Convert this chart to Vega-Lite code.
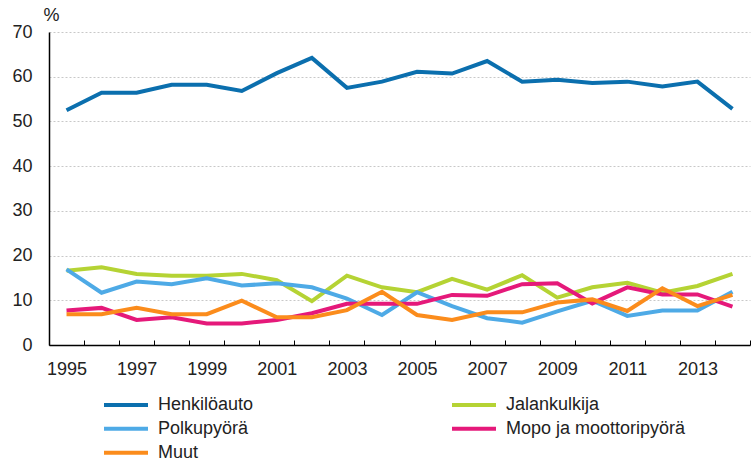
{
  "$schema": "https://vega.github.io/schema/vega-lite/v6.json",
  "width": 701,
  "height": 313,
  "autosize": {"type": "none"},
  "padding": {"left": 49, "top": 32, "right": 2, "bottom": 121},
  "background": "white",
  "config": {
    "view": {"stroke": null},
    "font": "Liberation Sans"
  },
  "datasets": {
    "d": [
      {"year": 1995, "series": "Henkilöauto", "value": 52.5},
      {"year": 1996, "series": "Henkilöauto", "value": 56.4},
      {"year": 1997, "series": "Henkilöauto", "value": 56.4},
      {"year": 1998, "series": "Henkilöauto", "value": 58.2},
      {"year": 1999, "series": "Henkilöauto", "value": 58.2},
      {"year": 2000, "series": "Henkilöauto", "value": 56.8},
      {"year": 2001, "series": "Henkilöauto", "value": 60.8},
      {"year": 2002, "series": "Henkilöauto", "value": 64.2},
      {"year": 2003, "series": "Henkilöauto", "value": 57.5},
      {"year": 2004, "series": "Henkilöauto", "value": 58.9},
      {"year": 2005, "series": "Henkilöauto", "value": 61.1},
      {"year": 2006, "series": "Henkilöauto", "value": 60.7},
      {"year": 2007, "series": "Henkilöauto", "value": 63.5},
      {"year": 2008, "series": "Henkilöauto", "value": 58.9},
      {"year": 2009, "series": "Henkilöauto", "value": 59.3},
      {"year": 2010, "series": "Henkilöauto", "value": 58.6},
      {"year": 2011, "series": "Henkilöauto", "value": 58.9},
      {"year": 2012, "series": "Henkilöauto", "value": 57.8},
      {"year": 2013, "series": "Henkilöauto", "value": 58.9},
      {"year": 2014, "series": "Henkilöauto", "value": 52.8},

      {"year": 1995, "series": "Jalankulkija", "value": 16.6},
      {"year": 1996, "series": "Jalankulkija", "value": 17.4},
      {"year": 1997, "series": "Jalankulkija", "value": 15.9},
      {"year": 1998, "series": "Jalankulkija", "value": 15.5},
      {"year": 1999, "series": "Jalankulkija", "value": 15.5},
      {"year": 2000, "series": "Jalankulkija", "value": 15.9},
      {"year": 2001, "series": "Jalankulkija", "value": 14.5},
      {"year": 2002, "series": "Jalankulkija", "value": 9.8},
      {"year": 2003, "series": "Jalankulkija", "value": 15.5},
      {"year": 2004, "series": "Jalankulkija", "value": 12.9},
      {"year": 2005, "series": "Jalankulkija", "value": 11.8},
      {"year": 2006, "series": "Jalankulkija", "value": 14.8},
      {"year": 2007, "series": "Jalankulkija", "value": 12.4},
      {"year": 2008, "series": "Jalankulkija", "value": 15.6},
      {"year": 2009, "series": "Jalankulkija", "value": 10.6},
      {"year": 2010, "series": "Jalankulkija", "value": 12.9},
      {"year": 2011, "series": "Jalankulkija", "value": 13.9},
      {"year": 2012, "series": "Jalankulkija", "value": 11.7},
      {"year": 2013, "series": "Jalankulkija", "value": 13.2},
      {"year": 2014, "series": "Jalankulkija", "value": 15.9},

      {"year": 1995, "series": "Polkupyörä", "value": 16.9},
      {"year": 1996, "series": "Polkupyörä", "value": 11.7},
      {"year": 1997, "series": "Polkupyörä", "value": 14.2},
      {"year": 1998, "series": "Polkupyörä", "value": 13.6},
      {"year": 1999, "series": "Polkupyörä", "value": 14.9},
      {"year": 2000, "series": "Polkupyörä", "value": 13.3},
      {"year": 2001, "series": "Polkupyörä", "value": 13.8},
      {"year": 2002, "series": "Polkupyörä", "value": 12.9},
      {"year": 2003, "series": "Polkupyörä", "value": 10.4},
      {"year": 2004, "series": "Polkupyörä", "value": 6.7},
      {"year": 2005, "series": "Polkupyörä", "value": 11.8},
      {"year": 2006, "series": "Polkupyörä", "value": 8.7},
      {"year": 2007, "series": "Polkupyörä", "value": 6.0},
      {"year": 2008, "series": "Polkupyörä", "value": 5.0},
      {"year": 2009, "series": "Polkupyörä", "value": 7.5},
      {"year": 2010, "series": "Polkupyörä", "value": 9.9},
      {"year": 2011, "series": "Polkupyörä", "value": 6.5},
      {"year": 2012, "series": "Polkupyörä", "value": 7.7},
      {"year": 2013, "series": "Polkupyörä", "value": 7.7},
      {"year": 2014, "series": "Polkupyörä", "value": 11.9},

      {"year": 1995, "series": "Mopo ja moottoripyörä", "value": 7.7},
      {"year": 1996, "series": "Mopo ja moottoripyörä", "value": 8.3},
      {"year": 1997, "series": "Mopo ja moottoripyörä", "value": 5.6},
      {"year": 1998, "series": "Mopo ja moottoripyörä", "value": 6.2},
      {"year": 1999, "series": "Mopo ja moottoripyörä", "value": 4.8},
      {"year": 2000, "series": "Mopo ja moottoripyörä", "value": 4.8},
      {"year": 2001, "series": "Mopo ja moottoripyörä", "value": 5.6},
      {"year": 2002, "series": "Mopo ja moottoripyörä", "value": 7.1},
      {"year": 2003, "series": "Mopo ja moottoripyörä", "value": 9.2},
      {"year": 2004, "series": "Mopo ja moottoripyörä", "value": 9.2},
      {"year": 2005, "series": "Mopo ja moottoripyörä", "value": 9.2},
      {"year": 2006, "series": "Mopo ja moottoripyörä", "value": 11.2},
      {"year": 2007, "series": "Mopo ja moottoripyörä", "value": 11.0},
      {"year": 2008, "series": "Mopo ja moottoripyörä", "value": 13.6},
      {"year": 2009, "series": "Mopo ja moottoripyörä", "value": 13.8},
      {"year": 2010, "series": "Mopo ja moottoripyörä", "value": 9.3},
      {"year": 2011, "series": "Mopo ja moottoripyörä", "value": 12.9},
      {"year": 2012, "series": "Mopo ja moottoripyörä", "value": 11.3},
      {"year": 2013, "series": "Mopo ja moottoripyörä", "value": 11.3},
      {"year": 2014, "series": "Mopo ja moottoripyörä", "value": 8.6},

      {"year": 1995, "series": "Muut", "value": 6.9},
      {"year": 1996, "series": "Muut", "value": 6.9},
      {"year": 1997, "series": "Muut", "value": 8.3},
      {"year": 1998, "series": "Muut", "value": 6.9},
      {"year": 1999, "series": "Muut", "value": 6.9},
      {"year": 2000, "series": "Muut", "value": 9.9},
      {"year": 2001, "series": "Muut", "value": 6.2},
      {"year": 2002, "series": "Muut", "value": 6.2},
      {"year": 2003, "series": "Muut", "value": 7.8},
      {"year": 2004, "series": "Muut", "value": 11.9},
      {"year": 2005, "series": "Muut", "value": 6.7},
      {"year": 2006, "series": "Muut", "value": 5.6},
      {"year": 2007, "series": "Muut", "value": 7.3},
      {"year": 2008, "series": "Muut", "value": 7.3},
      {"year": 2009, "series": "Muut", "value": 9.5},
      {"year": 2010, "series": "Muut", "value": 10.2},
      {"year": 2011, "series": "Muut", "value": 7.6},
      {"year": 2012, "series": "Muut", "value": 12.7},
      {"year": 2013, "series": "Muut", "value": 8.7},
      {"year": 2014, "series": "Muut", "value": 11.2}
    ]
  },
  "data": {"name": "d"},
  "mark": {"type": "line", "strokeWidth": 4, "strokeJoin": "miter", "strokeCap": "butt"},
  "encoding": {
    "x": {
      "field": "year",
      "type": "ordinal",
      "bandPosition": 0.5,
      "scale": {"type": "band", "paddingInner": 0, "paddingOuter": 0},
      "axis": {
        "title": null,
        "labelAngle": 0,
        "labelExpr": "datum.value % 2 == 1 ? datum.label : ''",
        "tickBand": "extent",
        "tickSize": -5,
        "tickColor": "#000",
        "domainColor": "#000",
        "domainWidth": 1.5,
        "labelFontSize": 18,
        "labelColor": "#222",
        "labelPadding": 20,
        "grid": false
      }
    },
    "y": {
      "field": "value",
      "type": "quantitative",
      "scale": {"domain": [0, 70], "nice": false},
      "axis": {
        "values": [0, 10, 20, 30, 40, 50, 60, 70],
        "title": "%",
        "titleAngle": 0,
        "titleAlign": "left",
        "titleBaseline": "middle",
        "titleX": -6,
        "titleY": -17,
        "titleFontSize": 18,
        "titleFontWeight": "normal",
        "titleColor": "#222",
        "ticks": false,
        "labelPadding": 17,
        "labelFontSize": 18,
        "labelColor": "#222",
        "domainColor": "#000",
        "domainWidth": 1.5,
        "grid": true,
        "gridColor": "#c8c8c8",
        "gridDash": [2, 2],
        "gridWidth": 1
      }
    },
    "color": {
      "field": "series",
      "type": "nominal",
      "scale": {
        "domain": ["Henkilöauto", "Jalankulkija", "Polkupyörä", "Mopo ja moottoripyörä", "Muut"],
        "range": ["#0b6fae", "#b5d334", "#4eaae6", "#e5197a", "#fb8c1c"]
      },
      "legend": {
        "title": null,
        "orient": "none",
        "legendX": 53,
        "legendY": 361,
        "direction": "horizontal",
        "columns": 2,
        "columnPadding": 196,
        "rowPadding": 0,
        "clipHeight": 23.5,
        "symbolType": "stroke",
        "symbolSize": 1936,
        "symbolStrokeWidth": 4,
        "labelFontSize": 18,
        "labelLimit": 400,
        "labelColor": "#222",
        "labelOffset": 8
      }
    }
  }
}
